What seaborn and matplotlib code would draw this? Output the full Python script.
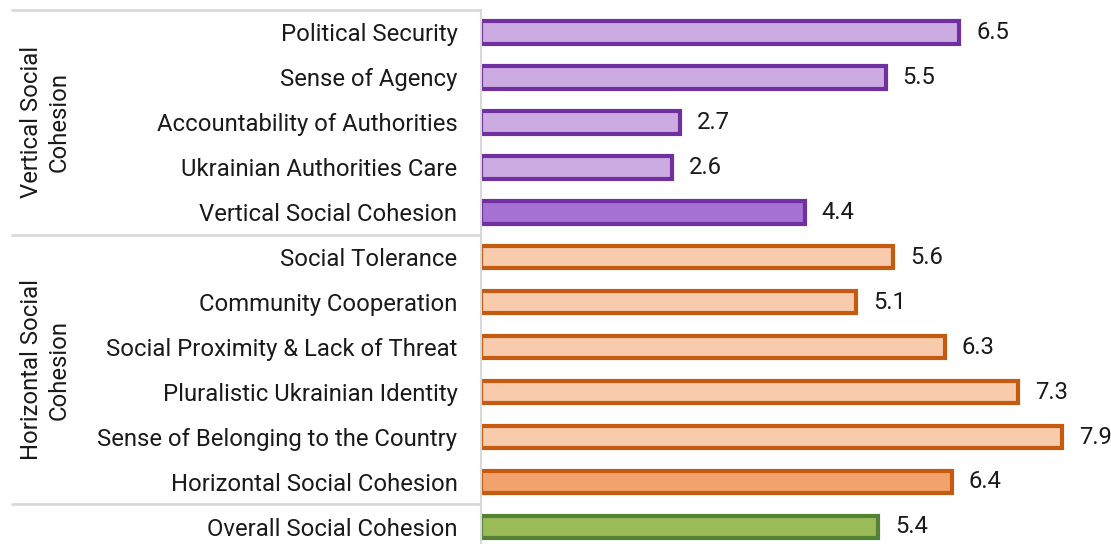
import matplotlib
matplotlib.use("Agg")
import matplotlib.pyplot as plt
import matplotlib.transforms as mtransforms
import seaborn as sns
import pandas as pd

categories = [
    "Political Security", "Sense of Agency", "Accountability of Authorities",
    "Ukrainian Authorities Care", "Vertical Social Cohesion",
    "Social Tolerance", "Community Cooperation", "Social Proximity & Lack of Threat",
    "Pluralistic Ukrainian Identity", "Sense of Belonging to the Country",
    "Horizontal Social Cohesion", "Overall Social Cohesion",
]
values = [6.5, 5.5, 2.7, 2.6, 4.4, 5.6, 5.1, 6.3, 7.3, 7.9, 6.4, 5.4]
kinds = ["v_sub"] * 4 + ["v_tot"] + ["h_sub"] * 5 + ["h_tot"] + ["overall"]
group_labels = ["Vertical Social\nCohesion", "Horizontal Social\nCohesion"]

fills = {"v_sub": "#CCABE3", "v_tot": "#A672D4", "h_sub": "#F8CBAD",
         "h_tot": "#F1A26D", "overall": "#9BBB59"}
edges = {"v_sub": "#7030A0", "v_tot": "#7030A0", "h_sub": "#C55A11",
         "h_tot": "#C55A11", "overall": "#538135"}

df = pd.DataFrame({"category": categories, "value": values, "kind": kinds})

sns.set_theme(style="white")
plt.rcParams["font.family"] = ["Roboto", "DejaVu Sans"]

FS = 17.2
fig = plt.figure(figsize=(11.11, 5.44), dpi=100)
ax = fig.add_axes([481 / 1111, 0.0, 1 - 481 / 1111, 1 - 10 / 544])

sns.barplot(data=df, y="category", x="value", hue="kind", palette=fills,
            order=categories, dodge=False, width=0.5, saturation=1,
            legend=False, ax=ax)

for patch in ax.patches:
    w = patch.get_width()
    if w == 0 or patch.get_height() == 0:
        continue
    yc = patch.get_y() + patch.get_height() / 2
    idx = int(round(yc))
    patch.set_edgecolor(edges[kinds[idx]])
    patch.set_linewidth(3.0)

for i, v in enumerate(values):
    ax.text(v + 0.23, i, f"{v:.1f}", va="center", ha="left", fontsize=FS,
            color="#1a1a1a")

ax.set_xlim(0, 8.56)
ax.set_ylim(11.38, -0.5)
ax.set_xlabel("")
ax.set_ylabel("")
ax.set_xticks([])
ax.tick_params(axis="y", length=0, pad=17, labelsize=FS, labelcolor="#1a1a1a")

for s in ["top", "right", "bottom"]:
    ax.spines[s].set_visible(False)
ax.spines["left"].set_color("#D9D9D9")
ax.spines["left"].set_linewidth(1.5)

trans = mtransforms.blended_transform_factory(fig.transFigure, ax.transData)
for yline in [-0.5, 4.5, 10.5]:
    ax.plot([12 / 1111, 480 / 1111], [yline, yline], transform=trans,
            color="#D9D9D9", lw=2, clip_on=False)

ax.text(45 / 1111, 2, group_labels[0], transform=trans, rotation=90,
        ha="center", va="center", fontsize=FS, color="#1a1a1a",
        linespacing=1.27)
ax.text(45 / 1111, 7.5, group_labels[1], transform=trans, rotation=90,
        ha="center", va="center", fontsize=FS, color="#1a1a1a",
        linespacing=1.27)

fig.savefig("out.png", dpi=100)
